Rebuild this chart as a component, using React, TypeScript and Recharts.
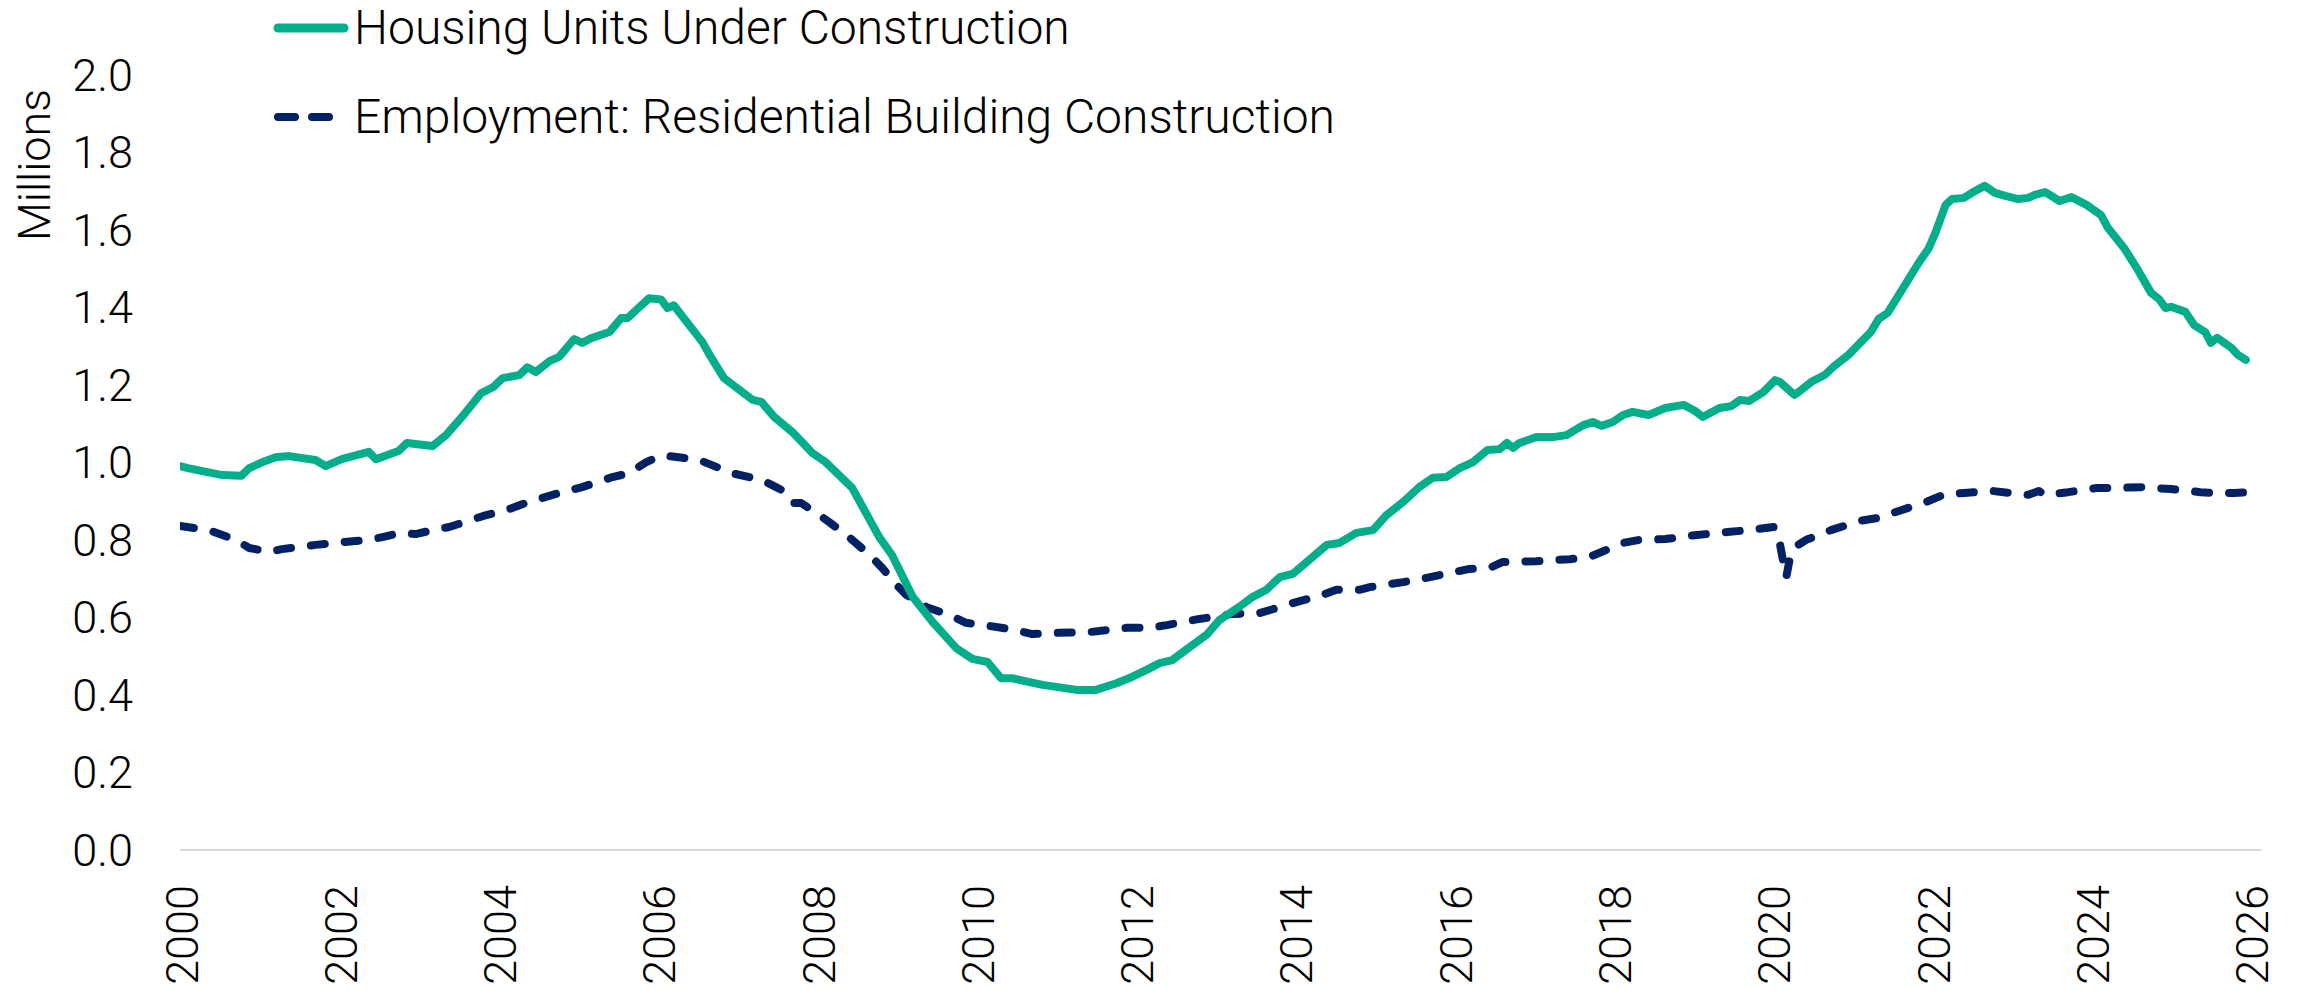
import { LineChart, Line, XAxis, YAxis } from 'recharts';

// Housing units under construction, millions
const housingYears = [
  2000.0, 2000.1, 2000.53, 2000.77, 2000.87, 2001.03, 2001.2, 2001.37, 2001.7, 2001.83,
  2002.03, 2002.37, 2002.46, 2002.75, 2002.85, 2003.17, 2003.34, 2003.54, 2003.78, 2003.94,
  2004.05, 2004.26, 2004.36, 2004.47, 2004.64, 2004.76, 2004.95, 2005.05, 2005.16, 2005.39,
  2005.54, 2005.62, 2005.73, 2005.89, 2006.04, 2006.12, 2006.2, 2006.56, 2006.65, 2006.83,
  2007.19, 2007.3, 2007.46, 2007.69, 2007.94, 2008.11, 2008.44, 2008.78, 2008.94, 2009.2,
  2009.45, 2009.75, 2009.95, 2010.14, 2010.31, 2010.45, 2010.83, 2011.26, 2011.5, 2011.76,
  2011.96, 2012.15, 2012.3, 2012.46, 2012.59, 2012.89, 2013.05, 2013.3, 2013.47, 2013.64,
  2013.81, 2013.97, 2014.15, 2014.4, 2014.56, 2014.77, 2014.98, 2015.15, 2015.36, 2015.56,
  2015.73, 2015.9, 2016.07, 2016.23, 2016.42, 2016.57, 2016.66, 2016.74, 2016.82, 2017.03,
  2017.24, 2017.41, 2017.62, 2017.74, 2017.85, 2017.99, 2018.12, 2018.24, 2018.44, 2018.65,
  2018.88, 2019.02, 2019.12, 2019.33, 2019.48, 2019.59, 2019.7, 2019.88, 2020.03, 2020.09,
  2020.27, 2020.31, 2020.48, 2020.65, 2020.77, 2020.95, 2021.23, 2021.33, 2021.44, 2021.62,
  2021.83, 2021.96, 2022.04, 2022.17, 2022.25, 2022.4, 2022.5, 2022.66, 2022.79, 2022.92,
  2023.08, 2023.21, 2023.29, 2023.42, 2023.6, 2023.75, 2023.94, 2024.12, 2024.2, 2024.41,
  2024.57, 2024.75, 2024.85, 2024.93, 2025.0, 2025.18, 2025.29, 2025.43, 2025.5, 2025.58,
  2025.76, 2025.84, 2025.94,
];
const housingValues = [
  0.99, 0.985, 0.967, 0.965, 0.985, 1.0, 1.013, 1.016, 1.006, 0.99,
  1.008, 1.027, 1.008, 1.03, 1.05, 1.042, 1.07, 1.117, 1.178, 1.195,
  1.217, 1.225, 1.245, 1.233, 1.261, 1.272, 1.318, 1.308, 1.32, 1.336,
  1.372, 1.372, 1.393, 1.423, 1.42, 1.398, 1.405, 1.31, 1.277, 1.217,
  1.161, 1.156, 1.117, 1.078, 1.024, 1.0, 0.934, 0.807, 0.761, 0.653,
  0.588, 0.52, 0.493, 0.485, 0.443, 0.443, 0.426, 0.413, 0.413, 0.43,
  0.447, 0.466, 0.482, 0.49, 0.51, 0.555, 0.593, 0.627, 0.653, 0.671,
  0.704, 0.712, 0.743, 0.787, 0.792, 0.818, 0.825, 0.864, 0.898, 0.936,
  0.96, 0.962, 0.985, 1.0, 1.032, 1.034, 1.05, 1.037, 1.05, 1.065,
  1.065, 1.07, 1.096, 1.104, 1.094, 1.104, 1.122, 1.13, 1.122, 1.14,
  1.148, 1.133, 1.117, 1.14, 1.145, 1.161, 1.158, 1.181, 1.212, 1.207,
  1.174, 1.179, 1.207, 1.225, 1.248, 1.277, 1.336, 1.37, 1.385, 1.444,
  1.514, 1.553, 1.591, 1.664, 1.679, 1.682, 1.695, 1.713, 1.695, 1.687,
  1.679, 1.682, 1.69, 1.697, 1.674, 1.684, 1.664, 1.638, 1.607, 1.553,
  1.501, 1.437, 1.421, 1.398, 1.401, 1.388, 1.354, 1.336, 1.308, 1.321,
  1.295, 1.277, 1.264,
];

// Employment: residential building construction, millions
const employmentYears = [
  2000.0, 2000.36, 2000.7, 2000.87, 2001.12, 2001.28, 2001.7, 2002.03, 2002.37, 2002.54,
  2002.75, 2002.96, 2003.17, 2003.38, 2003.8, 2004.0, 2004.17, 2004.38, 2004.8, 2005.05,
  2005.43, 2005.64, 2005.85, 2006.02, 2006.14, 2006.52, 2006.93, 2007.31, 2007.56, 2007.69,
  2007.8, 2007.99, 2008.15, 2008.4, 2008.66, 2008.82, 2009.0, 2009.12, 2009.37, 2009.66,
  2009.87, 2010.16, 2010.5, 2010.7, 2011.0, 2011.42, 2011.88, 2012.17, 2012.39, 2012.8,
  2013.22, 2013.55, 2013.72, 2014.06, 2014.35, 2014.52, 2014.81, 2014.94, 2015.36, 2015.65,
  2016.19, 2016.44, 2016.61, 2017.03, 2017.45, 2017.7, 2017.91, 2018.12, 2018.33, 2018.65,
  2019.02, 2019.43, 2019.82, 2020.01, 2020.08, 2020.12, 2020.17, 2020.21, 2020.28, 2020.42,
  2020.73, 2021.09, 2021.31, 2021.62, 2021.93, 2022.14, 2022.4, 2022.76, 2022.98, 2023.21,
  2023.34, 2023.42, 2023.71, 2024.07, 2024.33, 2024.64, 2025.0, 2025.37, 2025.52, 2025.79,
  2025.99,
];
const employmentValues = [
  0.836, 0.825, 0.8, 0.779, 0.769, 0.776, 0.787, 0.794, 0.8, 0.807,
  0.817, 0.815, 0.825, 0.833, 0.861, 0.872, 0.882, 0.898, 0.923, 0.936,
  0.962, 0.972, 1.0, 1.016, 1.016, 1.006, 0.972, 0.954, 0.928, 0.895,
  0.895, 0.869, 0.846, 0.807, 0.761, 0.727, 0.683, 0.658, 0.627, 0.606,
  0.586, 0.578, 0.567, 0.557, 0.56, 0.562, 0.573, 0.573, 0.58, 0.596,
  0.609, 0.611, 0.621, 0.642, 0.658, 0.671, 0.671, 0.678, 0.691, 0.702,
  0.725, 0.727, 0.743, 0.745, 0.75, 0.756, 0.774, 0.792, 0.8, 0.802,
  0.812, 0.82, 0.828, 0.833, 0.8, 0.756, 0.704, 0.748, 0.782, 0.8,
  0.825, 0.849, 0.856, 0.877, 0.898, 0.916, 0.921, 0.926, 0.921, 0.916,
  0.926, 0.916, 0.923, 0.934, 0.934, 0.936, 0.931, 0.923, 0.921, 0.921,
  0.923,
];

const yearTicks = [2000, 2002, 2004, 2006, 2008, 2010, 2012, 2014, 2016, 2018, 2020, 2022, 2024, 2026];
const valueTicks = [0, 0.2, 0.4, 0.6, 0.8, 1.0, 1.2, 1.4, 1.6, 1.8, 2.0];

const HOUSING_COLOR = '#04ae8a';
const EMPLOYMENT_COLOR = '#022163';
const FONT = 'Roboto, "Open Sans", sans-serif';
const FONT_SIZE = 45;
const LEGEND_FONT_SIZE = 48;

const housingData = housingYears.map((year, i) => ({ year, value: housingValues[i] }));
const employmentData = employmentYears.map((year, i) => ({ year, value: employmentValues[i] }));

const YearTick = ({ x, y, payload }: any) => (
  <text
    x={x + 2}
    y={y + 33}
    transform={`rotate(-90 ${x + 2} ${y + 33})`}
    textAnchor="end"
    dominantBaseline="central"
    fill="#000"
    fontFamily={FONT}
    fontWeight={300}
    fontSize={FONT_SIZE}
  >
    {payload.value}
  </text>
);

const MillionsLabel = () => (
  <text
    x={34}
    y={165}
    transform="rotate(-90 34 165)"
    textAnchor="middle"
    dominantBaseline="central"
    fill="#000"
    fontFamily={FONT}
    fontWeight={300}
    fontSize={FONT_SIZE}
  >
    Millions
  </text>
);

const legendText: React.CSSProperties = {
  position: 'absolute',
  left: 354,
  fontFamily: FONT,
  fontWeight: 300,
  fontSize: LEGEND_FONT_SIZE,
  color: '#000',
  lineHeight: '1',
  whiteSpace: 'nowrap',
  transform: 'translateY(-50%)',
};

export default function App() {
  return (
    <div style={{ position: 'absolute', left: 0, top: 0, width: 2305, height: 991, background: '#fff' }}>
      <LineChart width={2305} height={991} data={housingData} margin={{ top: 74.6, right: 44, bottom: 0, left: 0 }}>
        <XAxis
          dataKey="year"
          type="number"
          domain={[2000, 2026.13]}
          ticks={yearTicks}
          interval={0}
          height={141}
          tickSize={0}
          tickLine={false}
          axisLine={{ stroke: '#d9d9d9', strokeWidth: 2 }}
          tick={<YearTick />}
          allowDataOverflow
        />
        <YAxis
          type="number"
          domain={[0, 2]}
          ticks={valueTicks}
          interval={0}
          width={180}
          tickSize={0}
          tickMargin={47}
          axisLine={false}
          tickLine={false}
          tickFormatter={(v: number) => v.toFixed(1)}
          tick={{ fill: '#000', fontFamily: FONT, fontWeight: 300, fontSize: FONT_SIZE }}
          label={{ content: () => <MillionsLabel /> }}
        />
        <Line
          data={employmentData}
          dataKey="value"
          type="linear"
          stroke={EMPLOYMENT_COLOR}
          strokeWidth={8}
          strokeDasharray="14 20"
          strokeLinecap="round"
          strokeLinejoin="round"
          dot={false}
          isAnimationActive={false}
        />
        <Line
          data={housingData}
          dataKey="value"
          type="linear"
          stroke={HOUSING_COLOR}
          strokeWidth={8}
          strokeLinecap="round"
          strokeLinejoin="round"
          dot={false}
          isAnimationActive={false}
        />
      </LineChart>

      {/* legend, top left over the plot */}
      <svg style={{ position: 'absolute', left: 0, top: 0 }} width={360} height={140}>
        <line x1={278} y1={28} x2={344} y2={28} stroke={HOUSING_COLOR} strokeWidth={9} strokeLinecap="round" />
        <line x1={278} y1={117} x2={330} y2={117} stroke={EMPLOYMENT_COLOR} strokeWidth={8} strokeLinecap="round" strokeDasharray="17 17" />
      </svg>
      <div style={{ ...legendText, top: 28 }}>Housing Units Under Construction</div>
      <div style={{ ...legendText, top: 117 }}>Employment: Residential Building Construction</div>
    </div>
  );
}
